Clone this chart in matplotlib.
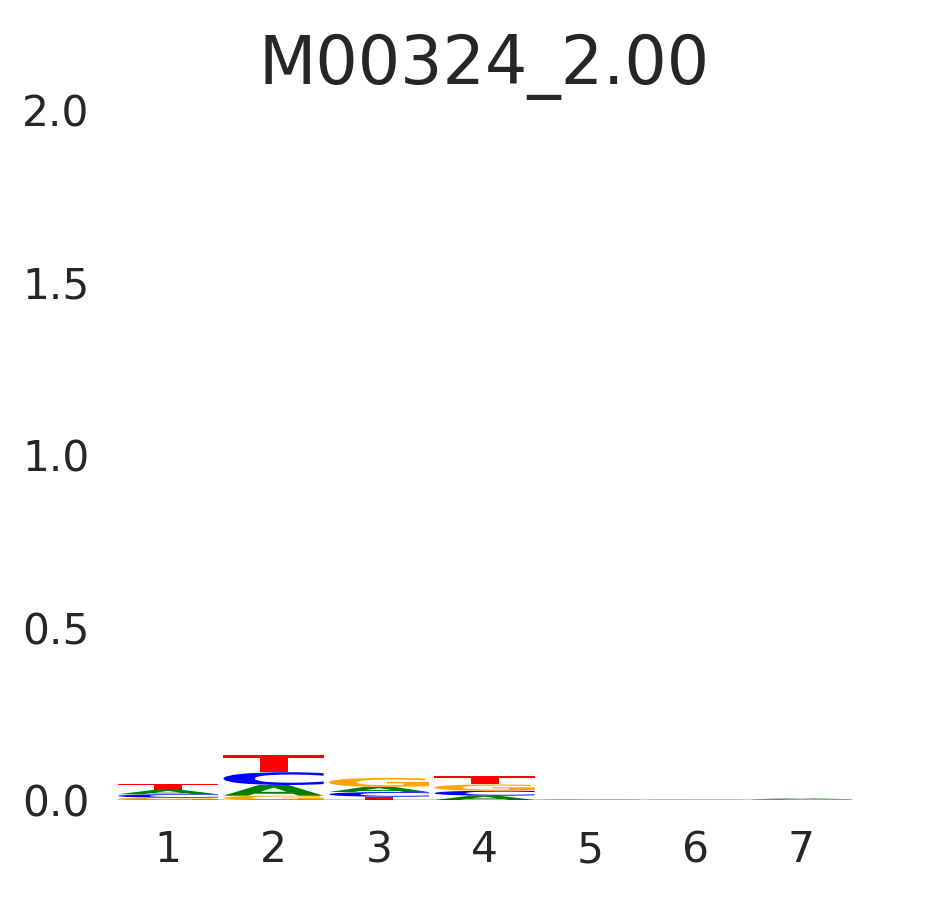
import numpy as np
import matplotlib
matplotlib.use("Agg")
import matplotlib.pyplot as plt
from matplotlib.textpath import TextPath
from matplotlib.font_manager import FontProperties
from matplotlib.patches import PathPatch
from matplotlib.transforms import Affine2D

title = "M00324_2.00"
positions = [1, 2, 3, 4, 5, 6, 7]
letters = ["A", "C", "G", "T"]
A_vals = [0.0125, 0.031, 0.015, 0.0125, 0.0003, 0.0002, 0.0020]
C_vals = [0.0100, 0.037, 0.0135, 0.0145, 0.0003, 0.0002, 0.0012]
G_vals = [0.0067, 0.0125, 0.026, 0.018, 0.0012, 0.0002, 0.0004]
T_vals = [0.0170, 0.050, 0.0096, 0.024, 0.0008, 0.0002, 0.0008]
colors = {"A": "#008000", "C": "#0000FF", "G": "#FFA500", "T": "#FF0000"}
yticks = [0.0, 0.5, 1.0, 1.5, 2.0]

txt = "#262626"
fig = plt.figure(figsize=(9.45, 9.0), dpi=100)
ax = fig.add_axes([0.122, 0.1111, 0.7814, 0.7667])

fp = FontProperties(family="DejaVu Sans", weight="bold")
width = 0.95
vals = {"A": A_vals, "C": C_vals, "G": G_vals, "T": T_vals}

for i, x in enumerate(positions):
    hs = sorted([(vals[L][i], L) for L in letters])
    floor = 0.0
    for h, L in hs:
        tp = TextPath((0, 0), L, size=1, prop=fp)
        ext = tp.get_extents()
        sx = width / ext.width
        sy = h / ext.height
        tr = Affine2D().translate(-ext.x0, -ext.y0).scale(sx, sy).translate(x - width / 2, floor)
        path = tr.transform_path(tp)
        ax.add_patch(PathPatch(path, facecolor=colors[L], edgecolor="none", lw=0))
        floor += h

ax.plot([positions[0] - width / 2, positions[-1] + width / 2], [0, 0], color="black", lw=1.0, zorder=5)

ax.set_xlim(0.5, 7.5)
ax.set_ylim(0, 2.0)
ax.set_xticks(positions)
ax.set_xticklabels([str(p) for p in positions])
ax.set_yticks(yticks)
ax.set_yticklabels([f"{v:.1f}" for v in yticks])
for s in ax.spines.values():
    s.set_visible(False)
ax.tick_params(axis="both", length=0, labelsize=30.5, colors=txt)
ax.tick_params(axis="x", pad=21)
ax.tick_params(axis="y", pad=18.5)
ax.set_title(title, fontsize=48, color=txt, pad=19)
ax.set_facecolor("white")
fig.savefig("out.png", dpi=100, facecolor="white")
